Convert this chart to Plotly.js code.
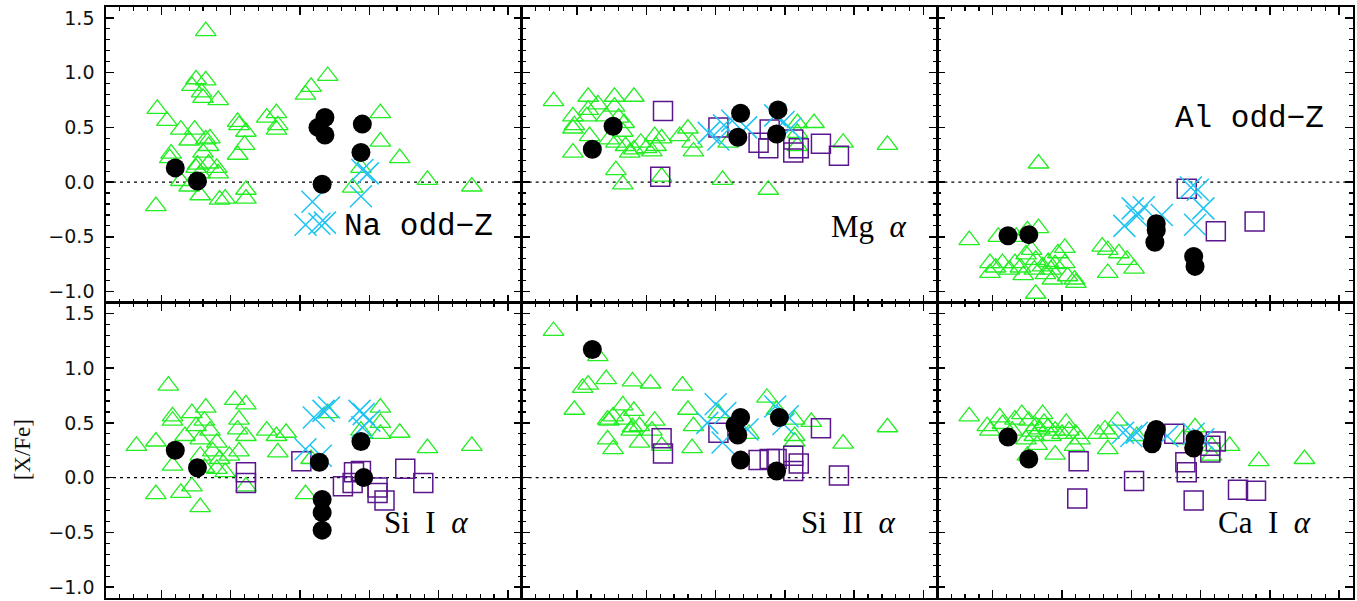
<!DOCTYPE html>
<html><head><meta charset="utf-8">
<script src="https://cdn.plot.ly/plotly-3.0.1.min.js"></script>
<style>html,body{margin:0;padding:0;background:#fff}</style>
</head><body><div id="chart" style="width:1357px;height:601px"></div>
<script>
// Panel labels
const panelLabels = ['Na odd\u2212Z', 'Mg\u00a0\u00a0<i>\u03b1</i>', 'Al odd\u2212Z', 'Si\u00a0\u00a0I\u00a0\u00a0<i>\u03b1</i>', 'Si\u00a0\u00a0II\u00a0\u00a0<i>\u03b1</i>', 'Ca\u00a0\u00a0I\u00a0\u00a0<i>\u03b1</i>'];
const labelX = [-2.70, -2.18, -2.70, -2.41, -2.40, -2.39];
const labelY = [-0.41, -0.41, 0.58, -0.41, -0.41, -0.41];
const yTitle = '[X/Fe]';

// [x, [X/Fe]] pairs per panel, per sample
const naTri = [[-4.03,0.67],[-3.96,0.56],[-3.86,0.48],[-3.76,0.48],[-3.80,0.38],[-3.93,0.26],[-3.94,0.22],[-3.68,0.39],[-3.65,0.40],[-3.66,0.33],[-3.70,0.27],[-3.66,0.17],[-3.74,0.16],[-3.75,0.13],[-3.72,0.08],[-3.60,0.13],[-3.59,0.08],[-3.86,0.01],[-3.80,-0.04],[-3.72,-0.12],[-4.04,-0.22],[-3.58,-0.16],[-3.54,-0.15],[-3.39,-0.07],[-3.39,-0.15],[-3.45,0.55],[-3.44,0.52],[-3.39,0.46],[-3.40,0.34],[-3.45,0.25],[-3.24,0.59],[-3.17,0.63],[-3.16,0.52],[-3.17,0.48],[-2.96,0.80],[-2.92,0.87],[-2.80,0.97],[-3.68,1.38],[-3.78,0.88],[-3.75,0.94],[-3.68,0.93],[-3.71,0.82],[-3.70,0.77],[-3.59,0.75],[-2.42,0.63],[-2.42,0.37],[-2.28,0.22],[-2.08,0.02],[-1.76,-0.04],[-2.62,-0.05],[-2.56,0.13]];
const naCir = [[-3.90,0.13],[-3.74,0.01],[-2.82,0.59],[-2.87,0.50],[-2.82,0.43],[-2.55,0.53],[-2.56,0.27],[-2.84,-0.02]];
const naCross = [[-2.91,-0.18],[-2.96,-0.39],[-2.86,-0.38],[-2.82,-0.37],[-2.55,0.11],[-2.51,0.08],[-2.56,-0.13]];
const naSq = [];

const mgTri = [[-4.17,0.74],[-4.03,0.60],[-4.02,0.52],[-4.03,0.49],[-3.92,0.78],[-3.92,0.66],[-3.93,0.60],[-3.85,0.71],[-3.91,0.42],[-4.03,0.27],[-3.73,0.78],[-3.73,0.69],[-3.59,0.78],[-3.79,0.60],[-3.70,0.59],[-3.66,0.54],[-3.67,0.46],[-3.77,0.39],[-3.72,0.36],[-3.65,0.33],[-3.59,0.30],[-3.62,0.27],[-3.54,0.36],[-3.50,0.31],[-3.44,0.42],[-3.43,0.33],[-3.39,0.40],[-3.46,0.28],[-3.72,0.11],[-3.67,-0.02],[-3.39,0.05],[-3.26,0.42],[-3.20,0.49],[-3.17,0.36],[-3.16,0.28],[-2.95,0.02],[-2.91,0.36],[-2.62,-0.07],[-2.41,0.54],[-2.29,0.54],[-2.41,0.45],[-2.41,0.33],[-2.08,0.36],[-1.76,0.34]];
const mgCir = [[-3.89,0.30],[-3.74,0.51],[-2.82,0.63],[-2.84,0.41],[-2.55,0.66],[-2.56,0.44]];
const mgCross = [[-3.05,0.45],[-2.98,0.39],[-2.94,0.52],[-2.88,0.56],[-2.78,0.50],[-2.57,0.61],[-2.51,0.55],[-2.46,0.49]];
const mgSq = [[-3.38,0.65],[-2.98,0.50],[-3.40,0.05],[-2.69,0.36],[-2.62,0.31],[-2.61,0.48],[-2.44,0.39],[-2.44,0.27],[-2.40,0.31],[-2.24,0.35],[-2.11,0.24]];

const alTri = [[-4.17,-0.53],[-3.67,0.17],[-3.96,-0.50],[-3.83,-0.50],[-3.75,-0.44],[-3.67,-0.42],[-4.02,-0.74],[-4.02,-0.83],[-3.93,-0.74],[-3.84,-0.74],[-3.76,-0.66],[-3.72,-0.62],[-3.69,-0.71],[-3.70,-0.80],[-3.64,-0.77],[-3.60,-0.73],[-3.58,-0.80],[-3.57,-0.89],[-3.69,-1.02],[-3.53,-0.65],[-3.48,-0.60],[-3.48,-0.74],[-3.46,-0.86],[-3.41,-0.89],[-3.40,-0.92],[-3.78,-0.85],[-3.21,-0.59],[-3.17,-0.62],[-3.09,-0.65],[-3.17,-0.83],[-3.03,-0.71],[-2.98,-0.79],[-3.98,-0.78],[-3.88,-0.80],[-3.80,-0.78],[-3.62,-0.84],[-3.55,-0.75]];
const alCir = [[-3.89,-0.49],[-3.74,-0.48],[-2.82,-0.38],[-2.82,-0.44],[-2.83,-0.55],[-2.55,-0.68],[-2.54,-0.77]];
const alCross = [[-3.05,-0.40],[-2.99,-0.24],[-2.91,-0.23],[-2.96,-0.31],[-2.78,-0.30],[-2.57,-0.05],[-2.52,-0.07],[-2.48,-0.24],[-2.54,-0.39]];
const alSq = [[-2.60,-0.06],[-2.39,-0.45],[-2.11,-0.36]];

const si1Tri = [[-4.18,0.29],[-4.04,0.33],[-3.95,0.84],[-3.92,0.56],[-3.92,0.52],[-3.83,0.38],[-3.78,0.59],[-3.75,0.47],[-3.68,0.64],[-3.69,0.52],[-3.65,0.43],[-3.72,0.35],[-3.60,0.32],[-3.63,0.24],[-3.72,0.20],[-3.69,0.09],[-3.60,0.08],[-3.54,0.05],[-3.58,0.17],[-3.51,0.20],[-3.44,0.24],[-3.45,0.44],[-3.44,0.53],[-3.47,0.71],[-3.39,0.67],[-3.39,0.38],[-3.39,-0.08],[-3.92,0.11],[-4.04,-0.15],[-3.86,-0.14],[-3.78,-0.08],[-3.72,-0.27],[-3.24,0.43],[-3.17,0.38],[-3.10,0.41],[-3.16,0.23],[-2.96,-0.15],[-2.80,0.59],[-2.42,0.64],[-2.42,0.50],[-2.42,0.40],[-2.56,0.43],[-2.28,0.41],[-2.08,0.27],[-1.76,0.29],[-2.92,0.17]];
const si1Cir = [[-3.90,0.25],[-3.74,0.09],[-2.86,0.14],[-2.84,-0.20],[-2.84,-0.32],[-2.84,-0.48],[-2.56,0.33],[-2.54,0.00]];
const si1Cross = [[-2.96,0.26],[-2.90,0.55],[-2.83,0.61],[-2.79,0.64],[-2.85,0.20],[-2.57,0.61],[-2.54,0.58],[-2.50,0.52],[-2.55,0.46]];
const si1Sq = [[-3.39,0.05],[-3.39,-0.05],[-2.99,0.15],[-2.69,-0.08],[-2.62,-0.05],[-2.56,0.06],[-2.44,-0.09],[-2.44,-0.14],[-2.39,-0.21],[-2.24,0.08],[-2.11,-0.05],[-2.61,0.05]];

const si2Tri = [[-4.17,1.34],[-3.85,1.11],[-4.02,0.62],[-3.96,0.82],[-3.92,0.85],[-3.79,0.90],[-3.60,0.88],[-3.47,0.86],[-3.24,0.84],[-3.20,0.62],[-3.67,0.66],[-3.59,0.61],[-3.78,0.53],[-3.77,0.52],[-3.74,0.56],[-3.66,0.53],[-3.60,0.46],[-3.55,0.47],[-3.61,0.43],[-3.44,0.52],[-3.46,0.43],[-3.78,0.35],[-3.74,0.26],[-3.55,0.32],[-3.16,0.47],[-3.17,0.27],[-3.39,0.29],[-2.63,0.73],[-2.56,0.62],[-2.43,0.53],[-2.31,0.51],[-2.43,0.38],[-2.43,0.33],[-2.08,0.31],[-1.76,0.46],[-2.98,0.59],[-2.76,0.40]];
const si2Cir = [[-3.89,1.17],[-2.82,0.55],[-2.86,0.48],[-2.84,0.39],[-2.82,0.16],[-2.54,0.55],[-2.56,0.06]];
const si2Cross = [[-3.00,0.67],[-3.06,0.50],[-2.93,0.59],[-2.95,0.32],[-2.77,0.44],[-2.57,0.65],[-2.48,0.56],[-2.51,0.49]];
const si2Sq = [[-3.39,0.36],[-3.38,0.22],[-2.98,0.41],[-2.69,0.16],[-2.61,0.17],[-2.56,0.17],[-2.44,0.20],[-2.40,0.13],[-2.44,0.06],[-2.24,0.45],[-2.11,0.02]];

const caTri = [[-4.17,0.56],[-4.04,0.47],[-3.95,0.55],[-4.02,0.43],[-3.93,0.49],[-3.84,0.53],[-3.79,0.58],[-3.74,0.52],[-3.69,0.47],[-3.64,0.58],[-3.63,0.50],[-3.60,0.46],[-3.70,0.38],[-3.76,0.35],[-3.68,0.30],[-3.55,0.21],[-3.55,0.43],[-3.47,0.50],[-3.45,0.43],[-3.40,0.40],[-3.37,0.35],[-3.41,0.29],[-3.75,0.20],[-3.86,0.43],[-3.24,0.40],[-3.19,0.44],[-3.16,0.40],[-3.17,0.26],[-3.10,0.52],[-2.96,0.38],[-2.54,0.46],[-2.42,0.29],[-2.42,0.20],[-2.29,0.29],[-2.08,0.15],[-1.75,0.17],[-2.63,0.35],[-3.66,0.44],[-3.72,0.42],[-3.50,0.40],[-3.58,0.38]];
const caCir = [[-3.89,0.37],[-3.74,0.17],[-2.82,0.44],[-2.84,0.38],[-2.85,0.31],[-2.54,0.35],[-2.55,0.27]];
const caCross = [[-3.06,0.41],[-3.00,0.38],[-2.96,0.41],[-2.74,0.38],[-2.55,0.40],[-2.48,0.35]];
const caSq = [[-3.38,0.15],[-3.39,-0.19],[-2.98,-0.03],[-2.69,0.40],[-2.61,0.14],[-2.60,0.05],[-2.55,-0.21],[-2.39,0.33],[-2.43,0.23],[-2.43,0.29],[-2.23,-0.11],[-2.10,-0.12]];

const panelData = [
  [naTri, naSq, naCross, naCir],
  [mgTri, mgSq, mgCross, mgCir],
  [alTri, alSq, alCross, alCir],
  [si1Tri, si1Sq, si1Cross, si1Cir],
  [si2Tri, si2Sq, si2Cross, si2Cir],
  [caTri, caSq, caCross, caCir]
];

const GREEN = '#22ee22', PURPLE = '#5a168c', CYAN = '#1ec3f2';
const markerStyles = [
  {symbol:'triangle-up-open', size:18, color:GREEN, line:{color:GREEN, width:1.3}},
  {symbol:'square-open', size:19, color:PURPLE, line:{color:PURPLE, width:1.5}},
  {symbol:'x-thin-open', size:22, color:CYAN, line:{color:CYAN, width:1.5}},
  {symbol:'circle', size:19, color:'#000', line:{width:0}}
];

const traces = [];
panelData.forEach((sets, p) => {
  const sfx = p === 0 ? '' : String(p + 1);
  sets.forEach((pts, s) => {
    if (!pts.length) return;
    traces.push({
      type:'scatter', mode:'markers',
      x: pts.map(d => d[0]), y: pts.map(d => d[1]),
      xaxis:'x' + sfx, yaxis:'y' + sfx,
      marker: markerStyles[s], hoverinfo:'skip', showlegend:false, cliponaxis:true
    });
  });
});

const layout = {
  width:1357, height:601,
  margin:{l:106, r:3.5, t:7.4, b:2.5},
  paper_bgcolor:'#fff', plot_bgcolor:'#fff',
  showlegend:false,
  shapes:[], annotations:[]
};

const xDomains = [[0,1/3],[1/3,2/3],[2/3,1]];
for (let p = 0; p < 6; p++) {
  const sfx = p === 0 ? '' : String(p + 1);
  const col = p % 3, row = Math.floor(p / 3);
  layout['xaxis' + sfx] = {
    domain: xDomains[col], anchor: 'y' + sfx,
    range:[-4.4,-1.4], tick0:-4, dtick:0.5,
    ticks:'inside', ticklen:8, tickwidth:1.4, tickcolor:'#000',
    showline:true, linecolor:'#000', linewidth:1.7, mirror:'allticks',
    showgrid:false, zeroline:false, showticklabels:false,
    minor:{dtick:0.1, ticks:'inside', ticklen:4, tickwidth:1.2, tickcolor:'#000', showgrid:false},
    fixedrange:true
  };
  layout['yaxis' + sfx] = {
    domain: row === 0 ? [0.5,1] : [0,0.5], anchor: 'x' + sfx,
    range:[-1.1,1.6], tick0:0, dtick:0.5, tickformat:'.1f',
    ticks:'inside', ticklen:8, tickwidth:1.4, tickcolor:'#000',
    showline:true, linecolor:'#000', linewidth:1.7, mirror:'allticks',
    showgrid:false, zeroline:false, showticklabels: col === 0,
    ticklabelstandoff: 6,
    tickfont:{family:'DejaVu Sans', size:19, color:'#111'},
    minor:{dtick:0.1, ticks:'inside', ticklen:4, tickwidth:1.2, tickcolor:'#000', showgrid:false},
    fixedrange:true
  };
  layout.shapes.push({
    type:'line', xref:'x' + sfx + ' domain', yref:'y' + sfx,
    x0:0, x1:1, y0:0, y1:0, layer:'below',
    line:{color:'#000', width:1.1, dash:'3px,4px'}
  });
  const mono = panelLabels[p].indexOf('odd') >= 0;
  layout.annotations.push({
    xref:'x' + sfx, yref:'y' + sfx, x:labelX[p], y:labelY[p],
    xanchor:'left', yanchor:'middle', showarrow:false,
    text: panelLabels[p],
    font:{family: mono ? 'Liberation Mono' : 'Liberation Serif', size:31, color:'#000'}
  });
}
layout.annotations.push({
  xref:'paper', yref:'paper', x:-0.0673, y:0.25, xanchor:'center', yanchor:'middle',
  showarrow:false, textangle:-90, text:yTitle,
  font:{family:'Liberation Serif', size:23, color:'#111'}
});

Plotly.newPlot('chart', traces, layout, {staticPlot:true, displayModeBar:false});
</script></body></html>
